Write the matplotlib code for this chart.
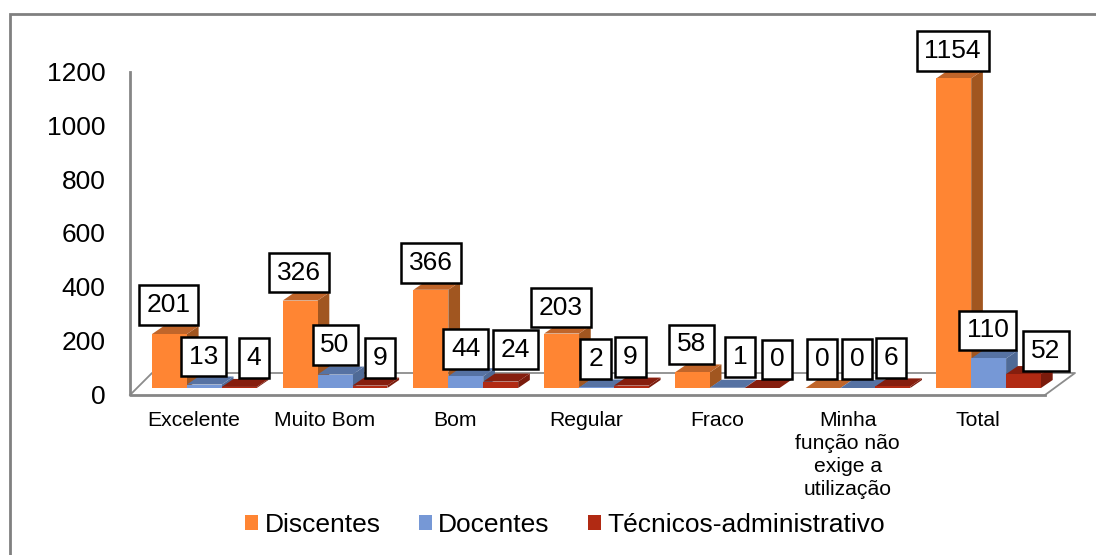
import matplotlib
matplotlib.use('Agg')
import matplotlib.pyplot as plt
from matplotlib.patches import Polygon, Rectangle
from matplotlib.transforms import Affine2D

categories = ['Excelente', 'Muito Bom', 'Bom', 'Regular', 'Fraco',
              'Minha\nfunção não\nexige a\nutilização', 'Total']
discentes = [201, 326, 366, 203, 58, 0, 1154]
docentes = [13, 50, 44, 2, 1, 0, 110]
tecnicos = [4, 9, 24, 9, 0, 6, 52]
series_names = ['Discentes', 'Docentes', 'Técnicos-administrativo']

# label offsets from the bar top, in pixels (moved by hand in the original)
label_dx = [[-1, -1, 14.5], [-1, 0, 10], [0, 0, 15], [-1, -1, -1], [-1, 13, 15], [-1, -1, -2], [-1, -1, 22.5]]
label_dy = [[29, 28, 29], [28, 30, 28], [27, 27, 32], [26, 28.5, 28.5], [28, 31, 28.5], [29, 29, 28], [27, 28, 23]]

colors = ['#FF8533', '#7698D6', '#B12A13']
top_colors = ['#C0652A', '#5672A3', '#861E0E']
side_colors = ['#A15620', '#4F6A96', '#7A1B0C']

W, H = 1096, 555
X0, X1 = 130, 1045   # axis plane in pixels
Y0, Y1 = 394, 72
bar_w = 34.9 / 130.7
depth_x = 11.7 / 130.7
depth_y = 8 / 0.2683

plt.rcParams['font.family'] = ['Liberation Sans', 'DejaVu Sans']

fig = plt.figure(figsize=(W / 100, H / 100), dpi=100)
ax = fig.add_axes([X0 / W, 1 - Y0 / H, (X1 - X0) / W, (Y0 - Y1) / H])
ax.set_xlim(0, 7)
ax.set_ylim(0, 1200)

# outer chart frame
fig.add_artist(Rectangle((9.5 / W, -0.05), 1.1, 1 - 13.5 / H + 0.05, transform=fig.transFigure,
                         fill=False, ec='#808080', lw=2))

# floor and walls
floor = [(X0, H - 395), (X1, H - 395), (1075, H - 373), (152, H - 373)]
px = Affine2D().scale(1)
ax.add_patch(Polygon(floor, closed=True, fc='white', ec='none', transform=px, clip_on=False, zorder=1))
ax.plot([X0, 152, 1075, X1], [H - 395, H - 373, H - 373, H - 395], color='#8C8C8C', lw=1.3,
        transform=px, clip_on=False, zorder=1)
ax.plot([X0, X0, X1], [H - 72, H - 395, H - 395], color='#868686', lw=2,
        transform=px, clip_on=False, zorder=2)

for s in ax.spines.values():
    s.set_visible(False)
ax.set_yticks(range(0, 1201, 200))
ax.tick_params(axis='y', length=0, labelsize=19, pad=17.5)
ax.set_xticks([i + 0.49 for i in range(7)])
ax.set_xticklabels(categories, fontsize=15.2, linespacing=1.28, va='top')
ax.tick_params(axis='x', length=0, pad=12)
ax.patch.set_visible(False)

# bars sit a little inside the floor
bar_trans = ax.transData + Affine2D().translate(9, 6)
series = [discentes, docentes, tecnicos]

for i in range(7):
    for j, vals in enumerate(series):
        v = vals[i]
        left = i + 0.5 + (j - 1.5) * bar_w
        right = left + bar_w
        z = 3 + i + j * 0.1
        ax.add_patch(Polygon([(right, 0), (right + depth_x, depth_y), (right + depth_x, v + depth_y), (right, v)],
                             closed=True, fc=side_colors[j], ec='none', transform=bar_trans, clip_on=False, zorder=z))
        ax.add_patch(Polygon([(left, v), (right, v), (right + depth_x, v + depth_y), (left + depth_x, v + depth_y)],
                             closed=True, fc=top_colors[j], ec='none', transform=bar_trans, clip_on=False, zorder=z))
        ax.bar(left, v, width=bar_w, align='edge', color=colors[j], transform=bar_trans, clip_on=False, zorder=z + 0.01)

# data labels
for i in range(7):
    for j, vals in enumerate(series):
        v = vals[i]
        xc = i + 0.5 + (j - 1) * bar_w
        ax.annotate(str(v), xy=(xc, v), xycoords=bar_trans,
                    xytext=(label_dx[i][j] * 0.72, label_dy[i][j] * 0.72), textcoords='offset points',
                    ha='center', va='center', fontsize=19, zorder=20,
                    bbox=dict(boxstyle='square,pad=0.3', fc='white', ec='black', lw=1.8))

# legend
handles = [Rectangle((0, 0), 1, 1, fc=c, ec='none') for c in colors]
fig.legend(handles, series_names, loc='center', bbox_to_anchor=(565 / W, 1 - 525 / H), ncol=3,
           fontsize=19, frameon=False, handlelength=0.5, handleheight=0.5, handletextpad=0.25,
           columnspacing=1.43, borderpad=0)

fig.savefig('out.png', dpi=100, facecolor='white')
